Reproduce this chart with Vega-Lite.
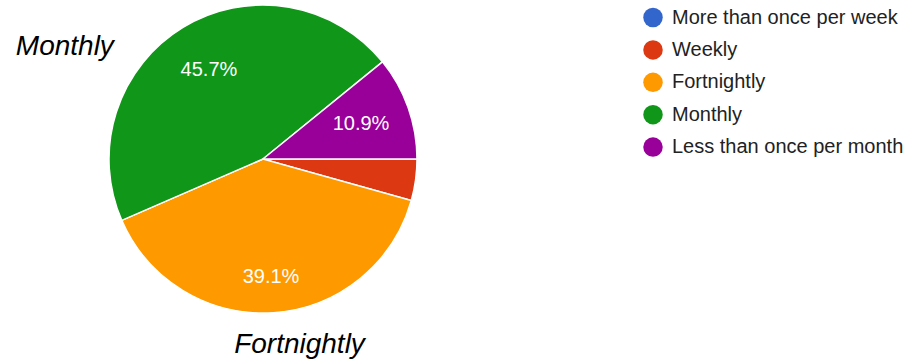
{
  "$schema": "https://vega.github.io/schema/vega-lite/v6.json",
  "width": 526,
  "height": 318,
  "autosize": {"type": "none"},
  "padding": {"left": 0, "top": 0, "right": 385, "bottom": 44},
  "background": "white",
  "config": {"view": {"stroke": null}, "font": "Liberation Sans"},
  "data": {
    "values": [
      {"freq": "More than once per week", "rank": 1, "count": 0, "label": ""},
      {"freq": "Weekly", "rank": 2, "count": 2, "label": ""},
      {"freq": "Fortnightly", "rank": 3, "count": 18, "label": "39.1%"},
      {"freq": "Monthly", "rank": 4, "count": 21, "label": "45.7%"},
      {"freq": "Less than once per month", "rank": 5, "count": 5, "label": "10.9%"}
    ]
  },
  "encoding": {
    "theta": {"field": "count", "type": "quantitative", "stack": true, "scale": {"range": [1.5708, 7.854]}},
    "order": {"field": "rank", "type": "quantitative"}
  },
  "layer": [
    {
      "mark": {"type": "arc", "outerRadius": 154, "stroke": "white", "strokeWidth": 1.5},
      "encoding": {
        "color": {
          "field": "freq",
          "type": "nominal",
          "scale": {
            "domain": ["More than once per week", "Weekly", "Fortnightly", "Monthly", "Less than once per month"],
            "range": ["#3366cc", "#dc3912", "#ff9900", "#109618", "#990099"]
          },
          "legend": {
            "title": null,
            "orient": "none",
            "legendX": 643,
            "legendY": 7.5,
            "padding": 0,
            "symbolType": "circle",
            "symbolSize": 380,
            "symbolStrokeWidth": 0,
            "symbolOpacity": 1,
            "labelFontSize": 20,
            "labelColor": "#222222",
            "labelFont": "Liberation Sans",
            "labelOffset": 9,
            "labelLimit": 300,
            "rowPadding": 12.4
          }
        }
      }
    },
    {
      "mark": {"type": "text", "radius": 104, "fontSize": 20, "fill": "white", "font": "Liberation Sans"},
      "encoding": {"text": {"condition": {"test": "datum.freq !== 'Fortnightly'", "field": "label"}, "value": ""}}
    },
    {
      "mark": {"type": "text", "radius": 118, "fontSize": 20, "fill": "white", "font": "Liberation Sans"},
      "encoding": {"text": {"condition": {"test": "datum.freq === 'Fortnightly'", "field": "label"}, "value": ""}}
    },
    {
      "mark": {"type": "text", "radius": 110, "fontSize": 28, "fontStyle": "italic", "fill": "black", "font": "Liberation Sans", "dx": -141, "dy": -18},
      "encoding": {"text": {"condition": {"test": "datum.freq === 'Monthly'", "value": "Monthly"}, "value": ""}}
    },
    {
      "mark": {"type": "text", "radius": 110, "fontSize": 28, "fontStyle": "italic", "fill": "black", "font": "Liberation Sans", "dx": 29, "dy": 76},
      "encoding": {"text": {"condition": {"test": "datum.freq === 'Fortnightly'", "value": "Fortnightly"}, "value": ""}}
    }
  ]
}
